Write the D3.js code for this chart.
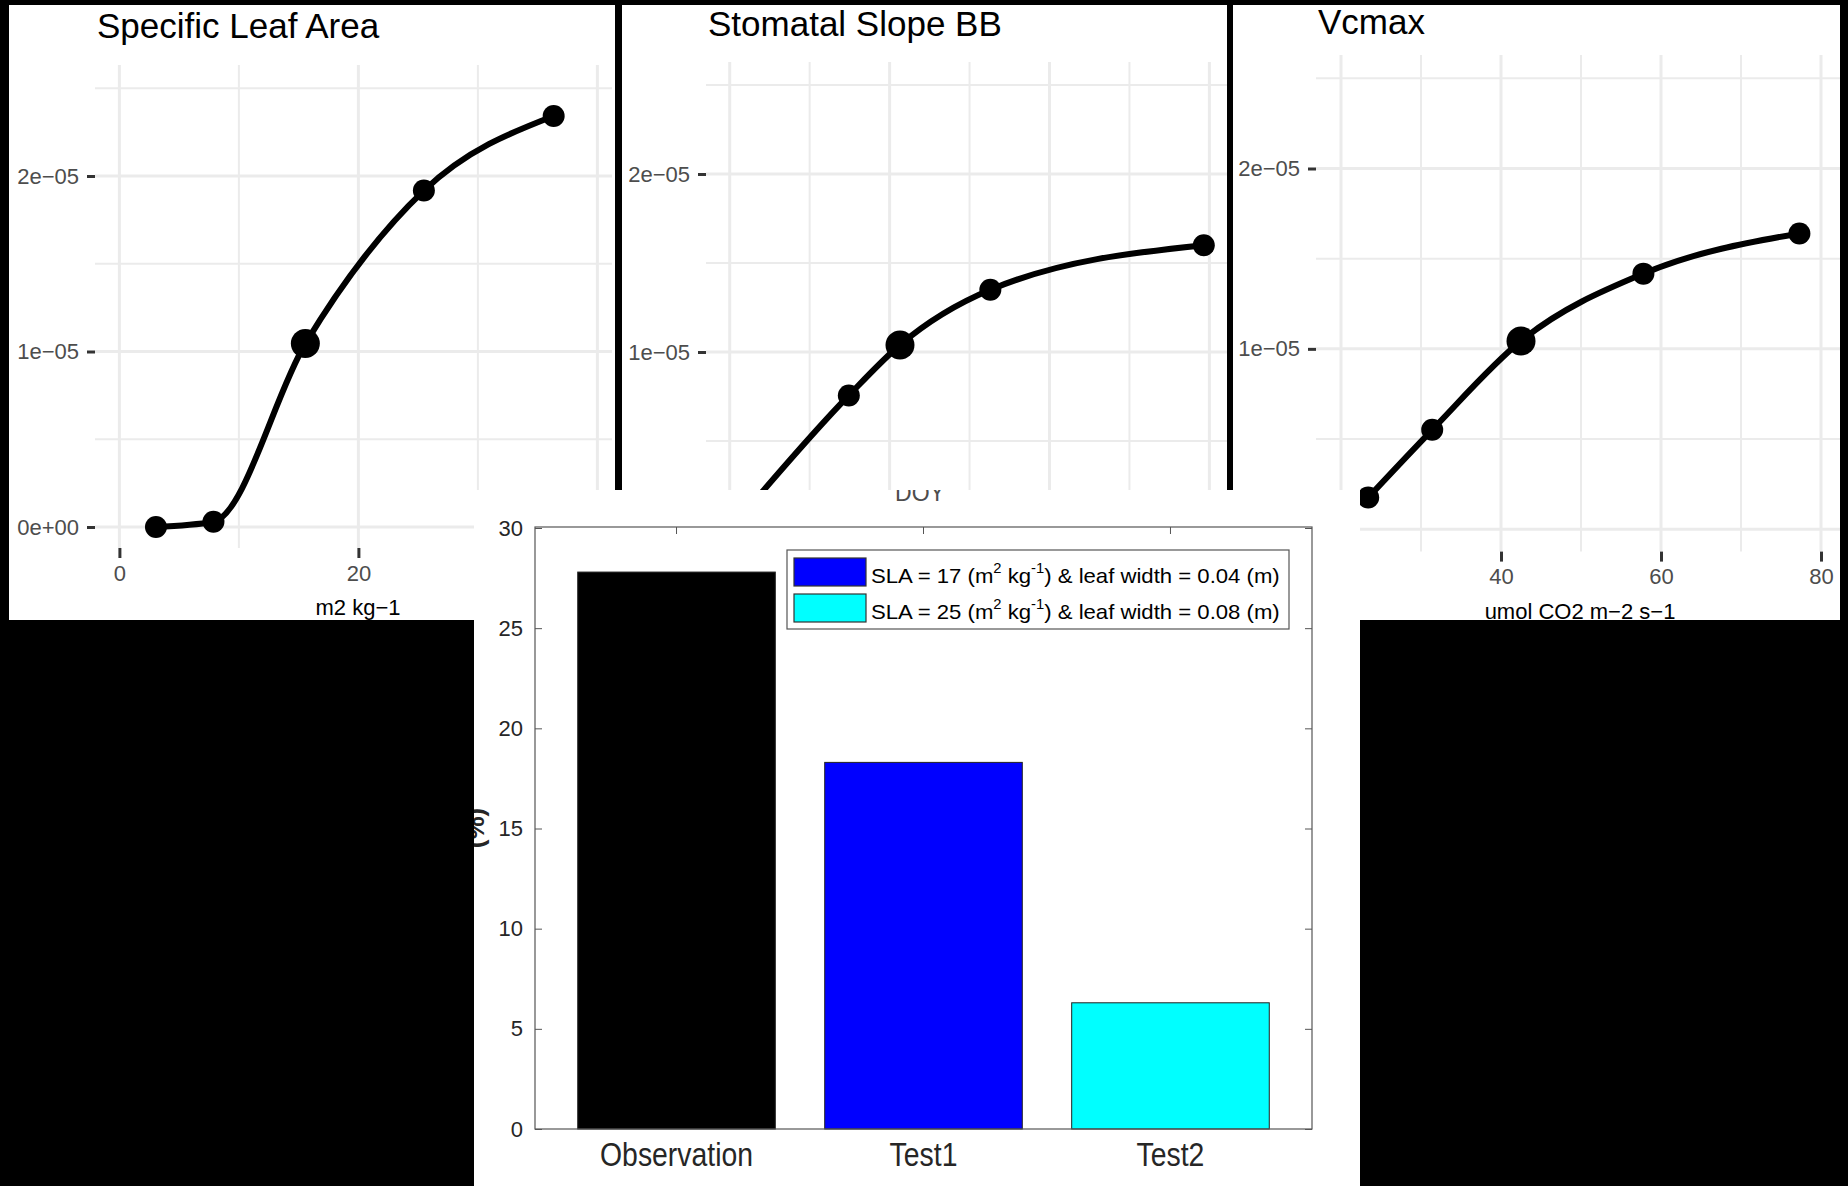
<!DOCTYPE html>
<html>
<head>
<meta charset="utf-8">
<script src="https://cdn.jsdelivr.net/npm/d3@7"></script>
<style>
  html, body { margin: 0; padding: 0; background: #000; }
  svg { display: block; }
</style>
</head>
<body>
<svg id="fig" width="1848" height="1186"></svg>
<script>
// ---------------- data ----------------
// Sensitivity curves (output vs. parameter value)
const slaX = [3.06, 7.87, 15.56, 25.48, 36.34];
const slaY = [0.0, 0.03e-5, 1.045e-5, 1.917e-5, 2.342e-5];
const slaRef = 15.56;

const bbX = [4.0, 5.49, 6.13, 7.26, 9.93];
const bbY = [0.0, 0.756e-5, 1.04e-5, 1.35e-5, 1.60e-5];
const bbRef = 6.13;

const vcX = [23.4, 31.4, 42.5, 57.8, 77.3];
const vcY = [0.176e-5, 0.551e-5, 1.044e-5, 1.417e-5, 1.640e-5];
const vcRef = 42.5;

const sciTicks = [0, 1e-5, 2e-5];
const sciMinor = [0.5e-5, 1.5e-5, 2.5e-5];
const slaTicks = [0, 20, 40];
const bbTicks = [4, 6, 8, 10];
const vcTicks = [20, 40, 60, 80];

// Bar chart
const barCats = ["Observation", "Test1", "Test2"];
const barValues = [27.8, 18.3, 6.3];
const barTicks = [0, 5, 10, 15, 20, 25, 30];
const legendSLA = [17, 25];
const legendLeafWidth = [0.04, 0.08];

// ---------------- styles ----------------
const barFill = ["#000000", "#0000ff", "#00ffff"];
const FONT = "'Liberation Sans', Arial, Helvetica, sans-serif";

const svg = d3.select("#fig");
const defs = svg.append("defs");
svg.append("rect").attr("width", 1848).attr("height", 1186).attr("fill", "#000");

function sci(d) {
  const [m, e] = d.toExponential(0).split("e");
  const sign = e[0] === "-" ? "\u2212" : "+";
  return m + "e" + sign + e.slice(1).padStart(2, "0");
}

function midpoints(arr) {
  const out = [];
  for (let i = 0; i < arr.length - 1; i++) out.push((arr[i] + arr[i + 1]) / 2);
  return out;
}

// ---------------- sensitivity panels ----------------
const panels = [
  { id: "sla", title: "Specific Leaf Area", xLabel: "m2 kg\u22121",
    xs: slaX, ys: slaY, ref: slaRef, xTicks: slaTicks, xTickLabels: true,
    box: { x: 9, y: 5, w: 606, h: 615 },
    plot: { l: 95, r: 612, t: 65, b: 548 },
    xDomain: [0, 40], xRange: [119.4, 597.4], yRange: [527, 176],
    titleAt: [97, 38], xLabelAt: [358, 615], yLabelRight: 79 },
  { id: "bb", title: "Stomatal Slope BB", xLabel: "",
    xs: bbX, ys: bbY, ref: bbRef, xTicks: bbTicks, xTickLabels: false,
    box: { x: 622, y: 5, w: 605, h: 615 },
    plot: { l: 706, r: 1227, t: 62, b: 552 },
    xDomain: [4, 10], xRange: [729.7, 1209.4], yRange: [530, 174],
    titleAt: [708, 36], xLabelAt: null, yLabelRight: 690 },
  { id: "vc", title: "Vcmax", xLabel: "umol CO2 m\u22122 s\u22121",
    xs: vcX, ys: vcY, ref: vcRef, xTicks: vcTicks, xTickLabels: true,
    box: { x: 1233, y: 5, w: 607, h: 615 },
    plot: { l: 1316, r: 1840, t: 55, b: 551.6 },
    xDomain: [20, 80], xRange: [1341, 1821], yRange: [529.2, 168.5],
    titleAt: [1318, 34], xLabelAt: [1580, 619], yLabelRight: 1300 }
];

panels.forEach(p => {
  defs.append("clipPath").attr("id", p.id + "-clip")
    .append("rect").attr("x", p.box.x).attr("y", p.box.y)
    .attr("width", p.box.w).attr("height", p.box.h);

  const g = svg.append("g").attr("clip-path", `url(#${p.id}-clip)`);
  g.append("rect").attr("x", p.box.x).attr("y", p.box.y)
    .attr("width", p.box.w).attr("height", p.box.h).attr("fill", "#fff");

  const x = d3.scaleLinear().domain(p.xDomain).range(p.xRange);
  const y = d3.scaleLinear().domain([0, 2e-5]).range(p.yRange);

  const grid = g.append("g").attr("stroke", "#ebebeb").attr("fill", "none");
  // minor grid
  const xMinor = midpoints(p.xTicks);
  grid.selectAll("line.vmin").data(xMinor).join("line")
    .attr("x1", d => x(d)).attr("x2", d => x(d))
    .attr("y1", p.plot.t).attr("y2", p.plot.b).attr("stroke-width", 2);
  grid.selectAll("line.hmin").data(sciMinor).join("line")
    .attr("x1", p.plot.l).attr("x2", p.plot.r)
    .attr("y1", d => y(d)).attr("y2", d => y(d)).attr("stroke-width", 2);
  // major grid
  grid.selectAll("line.vmaj").data(p.xTicks).join("line")
    .attr("x1", d => x(d)).attr("x2", d => x(d))
    .attr("y1", p.plot.t).attr("y2", p.plot.b).attr("stroke-width", 3);
  grid.selectAll("line.hmaj").data(sciTicks).join("line")
    .attr("x1", p.plot.l).attr("x2", p.plot.r)
    .attr("y1", d => y(d)).attr("y2", d => y(d)).attr("stroke-width", 3);

  // y axis
  const yAxis = g.append("g").attr("transform", `translate(${p.plot.l},0)`)
    .call(d3.axisLeft(y).tickValues(sciTicks).tickFormat(sci)
      .tickSize(8).tickPadding(p.plot.l - p.yLabelRight - 8));
  yAxis.select(".domain").remove();
  yAxis.selectAll(".tick line").attr("stroke", "#333").attr("stroke-width", 3);
  yAxis.selectAll(".tick text").attr("fill", "#4d4d4d")
    .style("font-family", FONT).style("font-size", "22px");

  // x axis
  const xAxis = g.append("g").attr("transform", `translate(0,${p.plot.b})`)
    .call(d3.axisBottom(x).tickValues(p.xTicks).tickFormat(d3.format("d"))
      .tickSize(10).tickPadding(7));
  xAxis.select(".domain").remove();
  xAxis.selectAll(".tick line").attr("stroke", "#333").attr("stroke-width", 3);
  if (p.xTickLabels) {
    xAxis.selectAll(".tick text").attr("fill", "#4d4d4d")
      .style("font-family", FONT).style("font-size", "22px");
  } else {
    xAxis.selectAll(".tick text").remove();
  }

  // titles
  g.append("text").attr("x", p.titleAt[0]).attr("y", p.titleAt[1])
    .style("font-family", FONT).style("font-size", "35px").attr("fill", "#000")
    .text(p.title);
  if (p.xLabelAt) {
    g.append("text").attr("x", p.xLabelAt[0]).attr("y", p.xLabelAt[1])
      .attr("text-anchor", "middle")
      .style("font-family", FONT).style("font-size", "22px").attr("fill", "#000")
      .text(p.xLabel);
  }

  // curve and points
  const pts = p.xs.map((v, i) => [v, p.ys[i]]);
  const line = d3.line().x(d => x(d[0])).y(d => y(d[1])).curve(d3.curveMonotoneX);
  g.append("path").datum(pts).attr("d", line)
    .attr("fill", "none").attr("stroke", "#000").attr("stroke-width", 6)
    .attr("stroke-linejoin", "round").attr("stroke-linecap", "round");
  g.selectAll("circle.pt").data(pts).join("circle")
    .attr("cx", d => x(d[0])).attr("cy", d => y(d[1]))
    .attr("r", d => d[0] === p.ref ? 14.5 : 11)
    .attr("fill", "#000");
});

// ---------------- bar chart ----------------
const B = { x: 474, y: 490, w: 886, h: 696 };
const ax = { l: 535, r: 1312, t: 527, b: 1129 };

defs.append("clipPath").attr("id", "bar-clip")
  .append("rect").attr("x", B.x).attr("y", B.y).attr("width", B.w).attr("height", B.h);
const bg = svg.append("g").attr("clip-path", "url(#bar-clip)");
bg.append("rect").attr("x", B.x).attr("y", B.y).attr("width", B.w).attr("height", B.h)
  .attr("fill", "#fff");

// axis title of the row above, partly cut by the frame
bg.append("text").attr("x", 920).attr("y", 501).attr("text-anchor", "middle")
  .style("font-family", FONT).style("font-size", "23px").attr("fill", "#4d4d4d")
  .text("DOY");

const xB = d3.scaleBand().domain(barCats).range([ax.l, ax.r])
  .paddingInner(0.2).paddingOuter(0.173);
const yB = d3.scaleLinear().domain([0, 30]).range([ax.b, ax.t + 1]);

const tickColor = "#555";
function styleTicks(sel, keepText) {
  sel.select(".domain").remove();
  sel.selectAll(".tick line").attr("stroke", tickColor).attr("stroke-width", 1);
  if (!keepText) sel.selectAll(".tick text").remove();
}

const leftAx = bg.append("g").attr("transform", `translate(${ax.l},0)`)
  .call(d3.axisLeft(yB).tickValues(barTicks).tickFormat(d3.format("d"))
    .tickSize(-7).tickPadding(12));
styleTicks(leftAx, true);
leftAx.selectAll(".tick text").attr("fill", "#262626")
  .style("font-family", FONT).style("font-size", "22px");

const rightAx = bg.append("g").attr("transform", `translate(${ax.r},0)`)
  .call(d3.axisRight(yB).tickValues(barTicks).tickSize(-7));
styleTicks(rightAx, false);

const topAx = bg.append("g").attr("transform", `translate(0,${ax.t})`)
  .call(d3.axisTop(xB).tickSize(-7));
styleTicks(topAx, false);

const botAx = bg.append("g").attr("transform", `translate(0,${ax.b})`)
  .call(d3.axisBottom(xB).tickSize(-7).tickPadding(14));
styleTicks(botAx, true);
botAx.selectAll(".tick text").attr("fill", "#262626")
  .style("font-family", FONT).style("font-size", "33px")
  .attr("transform", "scale(0.86,1)");

// bars
bg.selectAll("rect.bar").data(barValues).join("rect")
  .attr("x", (d, i) => xB(barCats[i])).attr("width", xB.bandwidth())
  .attr("y", d => yB(d)).attr("height", d => yB(0) - yB(d))
  .attr("fill", (d, i) => barFill[i])
  .attr("stroke", "#222").attr("stroke-width", 1);

// axes box
bg.append("rect").attr("x", ax.l).attr("y", ax.t)
  .attr("width", ax.r - ax.l).attr("height", ax.b - ax.t)
  .attr("fill", "none").attr("stroke", "#555").attr("stroke-width", 1.2);

// y label
bg.append("text").attr("transform", `translate(484,${(ax.t + ax.b) / 2}) rotate(-90)`)
  .attr("text-anchor", "middle")
  .style("font-family", FONT).style("font-size", "26px").style("font-weight", "bold")
  .attr("fill", "#262626").text("(%)");

// legend
const L = { x: 787, y: 550, w: 502, h: 79 };
const leg = bg.append("g");
leg.append("rect").attr("x", L.x).attr("y", L.y).attr("width", L.w).attr("height", L.h)
  .attr("fill", "#fff").attr("stroke", "#555").attr("stroke-width", 1.2);

const legRows = legendSLA.map((s, i) => ({ sla: s, lw: legendLeafWidth[i], color: barFill[i + 1] }));
legRows.forEach((r, i) => {
  const top = 558 + i * 36;
  leg.append("rect").attr("x", 794).attr("y", top).attr("width", 72).attr("height", 28)
    .attr("fill", r.color).attr("stroke", "#333").attr("stroke-width", 1.2);
  const t = leg.append("text").attr("x", 871).attr("y", top + 25)
    .style("font-family", FONT).style("font-size", "21px").attr("fill", "#000");
  t.append("tspan").text(`SLA = ${r.sla} (m`);
  t.append("tspan").attr("dy", -10).style("font-size", "14px").text("2");
  t.append("tspan").attr("dy", 10).text(" kg");
  t.append("tspan").attr("dy", -10).style("font-size", "14px").text("-1");
  t.append("tspan").attr("dy", 10).text(`) & leaf width = ${r.lw.toFixed(2)} (m)`);
  const w = t.node().getBBox().width;
  const k = 409 / w;
  t.attr("transform", `translate(871,0) scale(${k},1) translate(-871,0)`);
});
</script>
</body>
</html>
